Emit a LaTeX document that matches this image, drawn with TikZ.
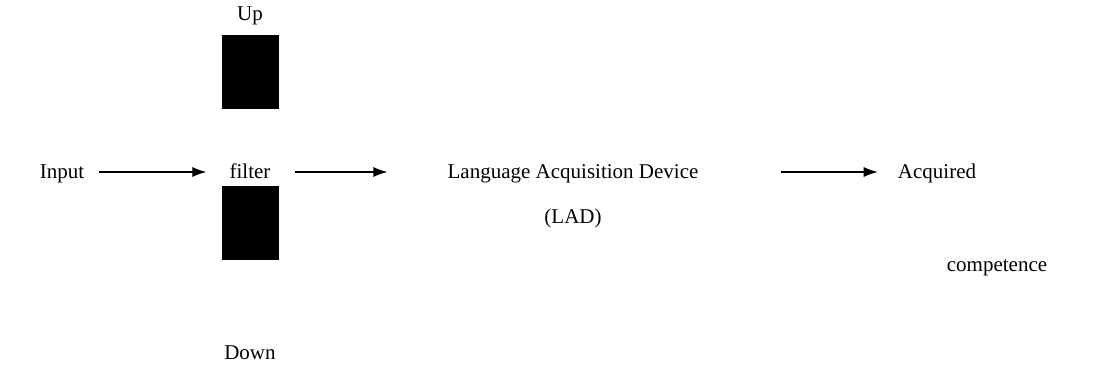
\documentclass[tikz,border=0pt]{standalone}
\usepackage{fontspec}
\setmainfont{Liberation Serif}
\usetikzlibrary{arrows.meta}
\begin{document}
\begin{tikzpicture}[x=1pt,y=-1pt,
  lbl/.style={inner sep=0pt,font=\fontsize{21}{24}\selectfont,anchor=base},
  blk/.style={fill=black,draw=black,minimum width=56pt,minimum height=73pt,inner sep=0pt},
  arr/.style={-{Latex[length=14pt,width=10pt]},line width=1.2pt}]
\useasboundingbox (0,0) rectangle (1095,380);
\node[lbl] (up) at (250,20) {Up};
\node[blk] (ubox) at (250,71.5) {};
\node[lbl] (filter) at (250,178) {filter};
\node[blk] (dbox) at (250,222.5) {};
\node[lbl] (down) at (250,359) {Down};
\node[lbl] (input) at (62,178) {Input};
\node[lbl] (lad) at (573,178) {Language Acquisition Device};
\node[lbl] (ladab) at (573,223) {(LAD)};
\node[lbl] (acq) at (937,178) {Acquired};
\node[lbl] (comp) at (997,271) {competence};
\draw[arr] ([xshift=15pt,yshift=6pt]input.base east) -- ([xshift=-23pt,yshift=6pt]filter.base west);
\draw[arr] ([xshift=24pt,yshift=6pt]filter.base east) -- ([xshift=-60pt,yshift=6pt]lad.base west);
\draw[arr] ([xshift=82pt,yshift=6pt]lad.base east) -- ([xshift=-20pt,yshift=6pt]acq.base west);
\end{tikzpicture}
\end{document}
